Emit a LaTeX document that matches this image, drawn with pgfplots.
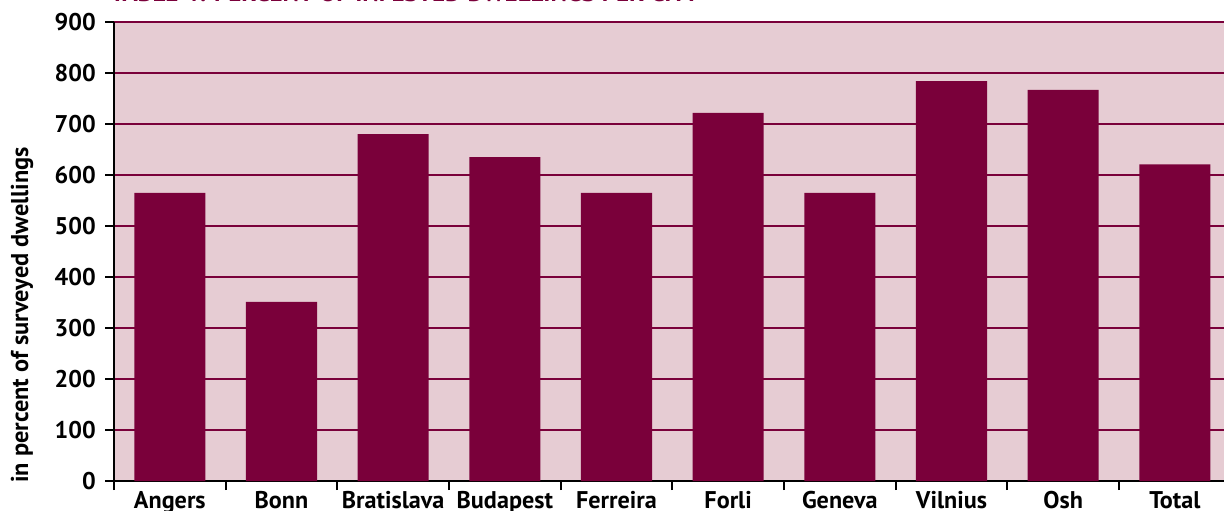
\documentclass[border=0pt]{standalone}
\usepackage{fontspec}
\setmainfont{PT Sans}
\usepackage{pgfplots}
\pgfplotsset{compat=1.18}
\definecolor{maroon}{HTML}{7A003A}
\definecolor{bgpink}{HTML}{E6CCD3}
\begin{document}
\begin{tikzpicture}
\clip (-68.4pt,-17.4pt) rectangle (666pt,288.6pt);
\path[use as bounding box] (-68.4pt,-17.4pt) rectangle (666pt,288.6pt);
\begin{axis}[
  at={(0,0)}, anchor=south west,
  scale only axis, width=670pt, height=275.4pt,
  xmin=0, xmax=10, ymin=0, ymax=900,
  axis background/.style={fill=bgpink},
  axis x line*=bottom, axis y line*=left,
  axis line style={black, line width=1.5pt},
  ytick={0,100,...,900},
  xtick={0.5,1.5,...,9.5},
  xticklabels={Angers,Bonn,Bratislava,Budapest,Ferreira,Forli,Geneva,Vilnius,Osh,Total},
  minor xtick={0,1,...,10},
  tick align=outside,
  major tick length=5.4pt,
  minor tick length=5.4pt,
  major x tick style={draw=none},
  minor x tick style={black, line width=1.2pt},
  major y tick style={black, line width=1.2pt},
  ymajorgrids,
  major grid style={maroon, line width=1.2pt},
  /pgf/number format/assume math mode=true,
  tick label style={font=\fontsize{14.5}{16}\selectfont\bfseries},
  xticklabel style={anchor=base, yshift=-11.1pt},
  yticklabel style={xshift=-2pt},
  ylabel={in percent of surveyed dwellings},
  ylabel style={at={(axis description cs:-0.0824,0.362)}, anchor=center, font=\fontsize{14.6}{16}\selectfont\bfseries},
  ybar, bar width=0.636,
]
\addplot[fill=maroon, draw=none] coordinates {
  (0.5,565) (1.5,351) (2.5,680) (3.5,635) (4.5,565)
  (5.5,722) (6.5,565) (7.5,784) (8.5,767) (9.5,621)
};
\end{axis}
\node[anchor=base west, text=maroon, font=\fontsize{15}{17}\selectfont\bfseries, inner sep=0pt] at (-2.4pt,287.4pt) {TABLE 4: PERCENT OF INFESTED DWELLINGS PER CITY};
\end{tikzpicture}
\end{document}
